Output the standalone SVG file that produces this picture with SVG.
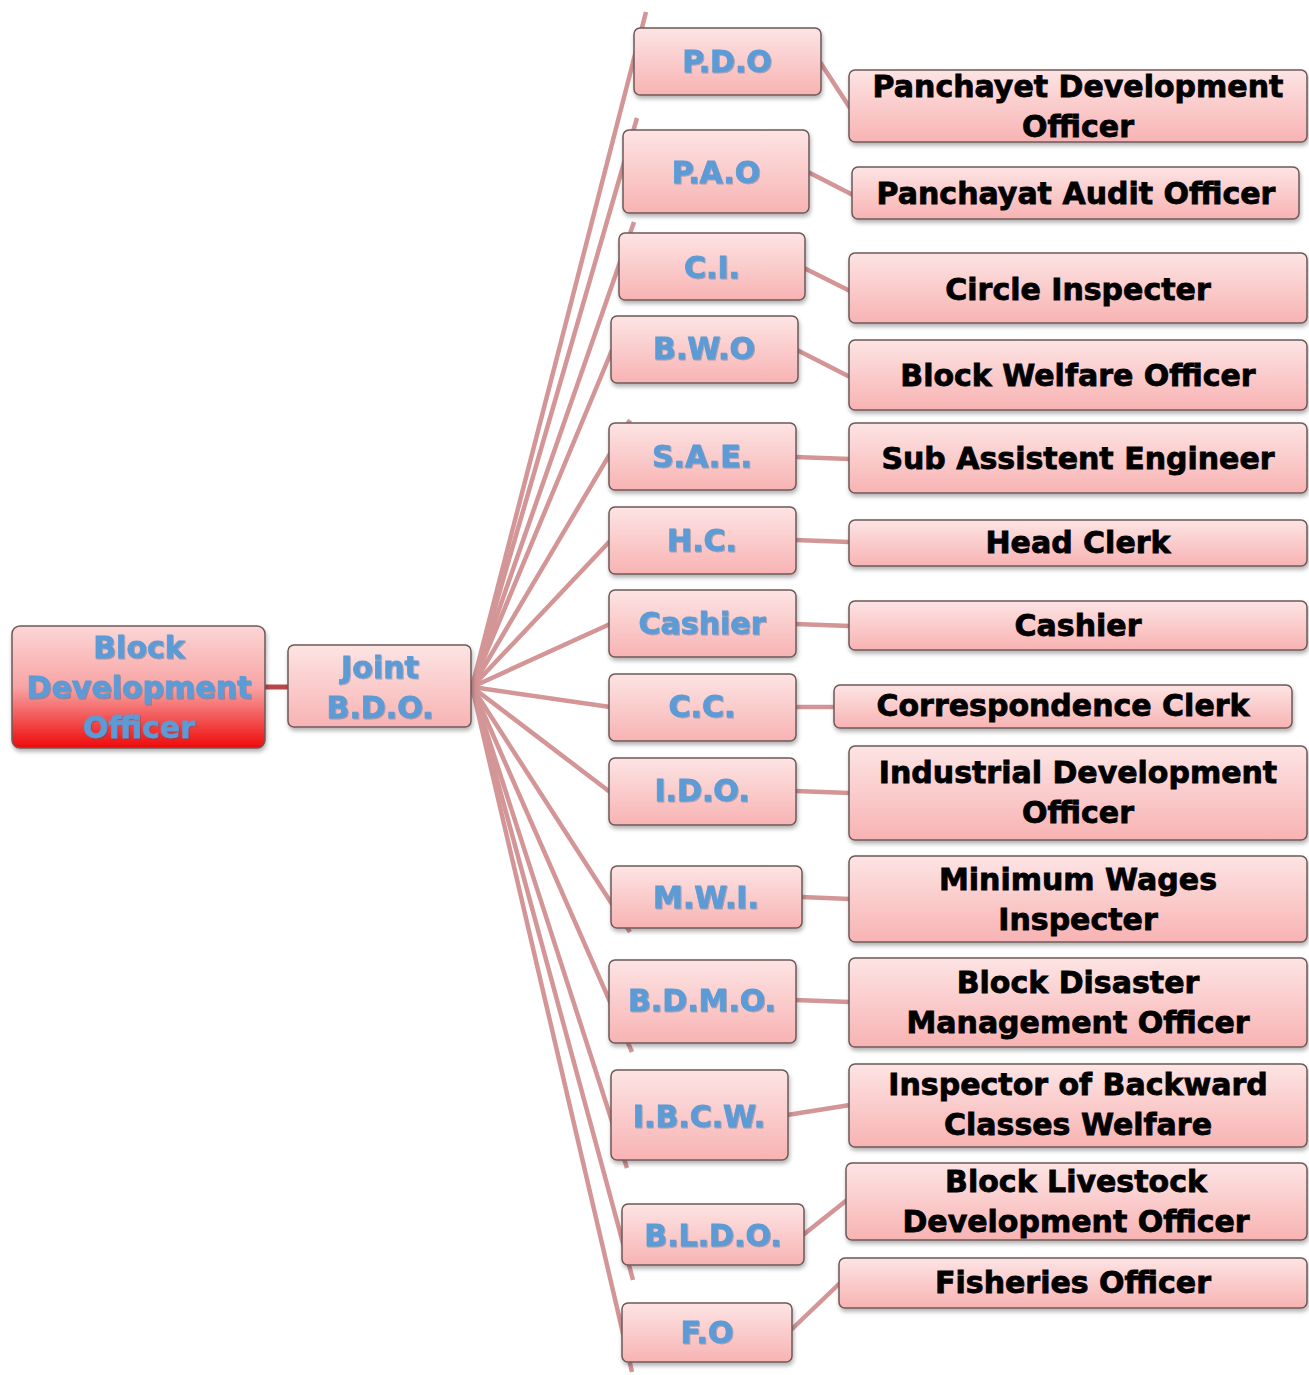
<svg xmlns="http://www.w3.org/2000/svg" width="1309" height="1375" viewBox="0 0 1309 1375">
<defs>
<linearGradient id="gPink" x1="0" y1="0" x2="0" y2="1">
<stop offset="0" stop-color="#fde4e4"/>
<stop offset="1" stop-color="#f8b3b3"/>
</linearGradient>
<linearGradient id="gRed" x1="0" y1="0" x2="0" y2="1">
<stop offset="0" stop-color="#fcd6d6"/>
<stop offset="0.5" stop-color="#f8a4a4"/>
<stop offset="1" stop-color="#ee0a0a"/>
</linearGradient>
<filter id="sh" x="-10%" y="-20%" width="120%" height="150%">
<feDropShadow dx="1" dy="3" stdDeviation="2" flood-color="#000" flood-opacity="0.3"/>
</filter>
<filter id="tsh" x="-10%" y="-20%" width="120%" height="150%">
<feDropShadow dx="1" dy="1" stdDeviation="0.6" flood-color="#2a4a70" flood-opacity="0.35"/>
</filter>
</defs>
<style>
.box{fill:url(#gPink);stroke:#6e5858;stroke-width:1.5;filter:url(#sh)}
.root{fill:url(#gRed);stroke:#6e5858;stroke-width:1.5;filter:url(#sh)}
.b{font-family:"DejaVu Sans","Liberation Sans",sans-serif;font-weight:bold;font-size:30px;fill:#5b9bd5;stroke:#5b9bd5;stroke-width:0.8;text-anchor:middle;filter:url(#tsh)}
.k{font-family:"DejaVu Sans","Liberation Sans",sans-serif;font-weight:bold;font-size:30px;fill:#000;stroke:#000;stroke-width:0.8;text-anchor:middle}
.c{stroke:#d39596;stroke-width:4.5;fill:none;stroke-linecap:butt}
</style>
<rect width="1309" height="1375" fill="#fff"/>
<g id="connectors">
<line class="c" x1="265" y1="687" x2="289" y2="687" style="stroke:#b84848;stroke-width:5"/>
<line class="c" x1="472" y1="687" x2="646" y2="12"/>
<line class="c" x1="472" y1="687" x2="637" y2="118"/>
<line class="c" x1="472" y1="687" x2="634" y2="222"/>
<line class="c" x1="472" y1="687" x2="612" y2="350"/>
<line class="c" x1="472" y1="687" x2="630" y2="420"/>
<line class="c" x1="472" y1="687" x2="610" y2="541"/>
<line class="c" x1="472" y1="687" x2="610" y2="624"/>
<line class="c" x1="472" y1="687" x2="610" y2="707"/>
<line class="c" x1="472" y1="687" x2="610" y2="792"/>
<line class="c" x1="472" y1="687" x2="630" y2="932"/>
<line class="c" x1="472" y1="687" x2="632" y2="1052"/>
<line class="c" x1="472" y1="687" x2="627" y2="1168"/>
<line class="c" x1="472" y1="687" x2="633" y2="1280"/>
<line class="c" x1="472" y1="687" x2="632" y2="1372"/>
<line class="c" x1="820" y1="62" x2="850" y2="108"/>
<line class="c" x1="808" y1="172" x2="853" y2="195"/>
<line class="c" x1="804" y1="268" x2="850" y2="291"/>
<line class="c" x1="797" y1="350" x2="850" y2="377"/>
<line class="c" x1="795" y1="457" x2="850" y2="459"/>
<line class="c" x1="795" y1="540" x2="850" y2="542"/>
<line class="c" x1="795" y1="624" x2="850" y2="626"/>
<line class="c" x1="795" y1="707" x2="835" y2="707"/>
<line class="c" x1="795" y1="791" x2="850" y2="793"/>
<line class="c" x1="801" y1="897" x2="850" y2="899"/>
<line class="c" x1="795" y1="1000" x2="850" y2="1002"/>
<line class="c" x1="787" y1="1115" x2="850" y2="1105"/>
<line class="c" x1="803" y1="1235" x2="847" y2="1200"/>
<line class="c" x1="791" y1="1330" x2="840" y2="1283"/>
</g>
<g id="n-bdo"><rect class="root" x="12" y="626" width="253" height="122" rx="8"/>
<text class="b" x="139" y="658">Block</text><text class="b" x="139" y="698">Development</text><text class="b" x="139" y="738">Officer</text></g>
<g id="n-jbdo"><rect class="box" x="288" y="645" width="183" height="82" rx="6"/>
<text class="b" x="380" y="678">Joint</text><text class="b" x="380" y="718">B.D.O.</text></g>

<g id="m-pdo"><rect class="box" x="634" y="28" width="187" height="67" rx="6"/><text class="b" x="727" y="72">P.D.O</text></g>
<g id="m-pao"><rect class="box" x="623" y="130" width="186" height="83" rx="6"/><text class="b" x="716" y="183">P.A.O</text></g>
<g id="m-ci"><rect class="box" x="619" y="233" width="186" height="67" rx="6"/><text class="b" x="712" y="278">C.I.</text></g>
<g id="m-bwo"><rect class="box" x="611" y="316" width="187" height="67" rx="6"/><text class="b" x="704" y="359">B.W.O</text></g>
<g id="m-sae"><rect class="box" x="609" y="423" width="187" height="67" rx="6"/><text class="b" x="702" y="467">S.A.E.</text></g>
<g id="m-hc"><rect class="box" x="609" y="507" width="187" height="67" rx="6"/><text class="b" x="702" y="551">H.C.</text></g>
<g id="m-cashier"><rect class="box" x="609" y="590" width="187" height="67" rx="6"/><text class="b" x="702" y="634">Cashier</text></g>
<g id="m-cc"><rect class="box" x="609" y="674" width="187" height="67" rx="6"/><text class="b" x="702" y="717">C.C.</text></g>
<g id="m-ido"><rect class="box" x="609" y="758" width="187" height="67" rx="6"/><text class="b" x="702" y="801">I.D.O.</text></g>
<g id="m-mwi"><rect class="box" x="611" y="866" width="191" height="62" rx="6"/><text class="b" x="706" y="908">M.W.I.</text></g>
<g id="m-bdmo"><rect class="box" x="609" y="960" width="187" height="83" rx="6"/><text class="b" x="702" y="1011">B.D.M.O.</text></g>
<g id="m-ibcw"><rect class="box" x="611" y="1070" width="177" height="90" rx="6"/><text class="b" x="699" y="1127">I.B.C.W.</text></g>
<g id="m-bldo"><rect class="box" x="622" y="1204" width="182" height="61" rx="6"/><text class="b" x="713" y="1246">B.L.D.O.</text></g>
<g id="m-fo"><rect class="box" x="622" y="1303" width="170" height="59" rx="6"/><text class="b" x="707" y="1343">F.O</text></g>

<g id="r-pdo"><rect class="box" x="849" y="70" width="458" height="72" rx="6"/><text class="k" x="1078" y="97">Panchayet Development</text><text class="k" x="1078" y="137">Officer</text></g>
<g id="r-pao"><rect class="box" x="852" y="167" width="447" height="52" rx="6"/><text class="k" x="1076" y="204">Panchayat Audit Officer</text></g>
<g id="r-ci"><rect class="box" x="849" y="253" width="458" height="70" rx="6"/><text class="k" x="1078" y="300">Circle Inspecter</text></g>
<g id="r-bwo"><rect class="box" x="849" y="340" width="458" height="70" rx="6"/><text class="k" x="1078" y="386">Block Welfare Officer</text></g>
<g id="r-sae"><rect class="box" x="849" y="423" width="458" height="70" rx="6"/><text class="k" x="1078" y="469">Sub Assistent Engineer</text></g>
<g id="r-hc"><rect class="box" x="849" y="520" width="458" height="46" rx="6"/><text class="k" x="1078" y="553">Head Clerk</text></g>
<g id="r-cashier"><rect class="box" x="849" y="601" width="458" height="49" rx="6"/><text class="k" x="1078" y="636">Cashier</text></g>
<g id="r-cc"><rect class="box" x="834" y="685" width="458" height="43" rx="6"/><text class="k" x="1063" y="716">Correspondence Clerk</text></g>
<g id="r-ido"><rect class="box" x="849" y="746" width="458" height="94" rx="6"/><text class="k" x="1078" y="783">Industrial Development</text><text class="k" x="1078" y="823">Officer</text></g>
<g id="r-mwi"><rect class="box" x="849" y="856" width="458" height="86" rx="6"/><text class="k" x="1078" y="890">Minimum Wages</text><text class="k" x="1078" y="930">Inspecter</text></g>
<g id="r-bdmo"><rect class="box" x="849" y="958" width="458" height="89" rx="6"/><text class="k" x="1078" y="993">Block Disaster</text><text class="k" x="1078" y="1033">Management Officer</text></g>
<g id="r-ibcw"><rect class="box" x="849" y="1064" width="458" height="83" rx="6"/><text class="k" x="1078" y="1095">Inspector of Backward</text><text class="k" x="1078" y="1135">Classes Welfare</text></g>
<g id="r-bldo"><rect class="box" x="846" y="1163" width="461" height="77" rx="6"/><text class="k" x="1076" y="1192">Block Livestock</text><text class="k" x="1076" y="1232">Development Officer</text></g>
<g id="r-fo"><rect class="box" x="839" y="1258" width="468" height="50" rx="6"/><text class="k" x="1073" y="1293">Fisheries Officer</text></g>
</svg>
